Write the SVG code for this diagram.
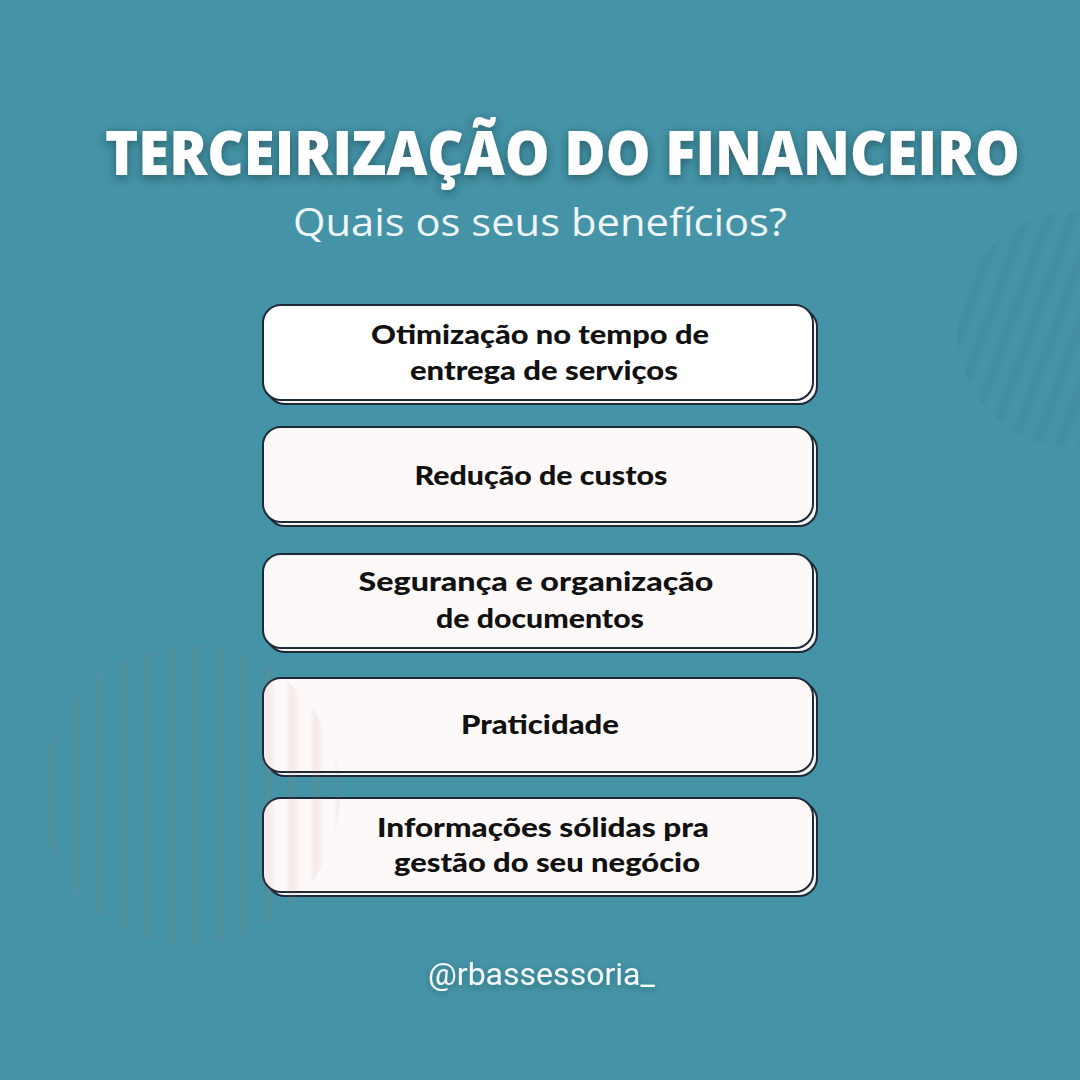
<svg xmlns="http://www.w3.org/2000/svg" width="1080" height="1080" viewBox="0 0 1080 1080">
<style>
.bg{fill:#4493a6}
.card{fill:#fdf9f8;stroke:#1e2a38;stroke-width:2}
.card1{fill:#ffffff;stroke:#1e2a38;stroke-width:2}
.shadowcard{fill:#f4f4f4;stroke:#1e2a38;stroke-width:2}
.lbl{font-family:"Lato","Inter","Liberation Sans",sans-serif;font-weight:900;font-size:27px;fill:#111111;text-anchor:middle}
.title{font-family:"Open Sans","Liberation Sans",sans-serif;font-weight:800;font-size:62px;fill:#ffffff}
.sub{font-family:"Open Sans","Liberation Sans",sans-serif;font-weight:400;font-size:38px;fill:#eef6f8}
.handle{font-family:"Roboto","Inter","Liberation Sans",sans-serif;font-weight:400;font-size:31px;fill:#f4f8f9}
</style>
<defs>
<filter id="ts" filterUnits="userSpaceOnUse" x="60" y="90" width="1010" height="130">
<feDropShadow dx="0" dy="3" stdDeviation="5" flood-color="#0d2a33" flood-opacity="0.5"/>
</filter>
<filter id="ts2" filterUnits="userSpaceOnUse" x="400" y="940" width="290" height="70">
<feDropShadow dx="0" dy="2" stdDeviation="3" flood-color="#0d2a33" flood-opacity="0.3"/>
</filter>
<filter id="soft" x="-10%" y="-10%" width="120%" height="120%">
<feGaussianBlur stdDeviation="1.5"/>
</filter>
<clipPath id="cl"><circle cx="190" cy="795" r="150"/></clipPath>
<clipPath id="cr"><circle cx="1075" cy="330" r="118"/></clipPath>
<pattern id="vs" width="24" height="24" patternUnits="userSpaceOnUse">
<rect x="0" y="0" width="9" height="24" fill="#b07878"/>
</pattern>
<pattern id="ds" width="22" height="22" patternUnits="userSpaceOnUse" patternTransform="rotate(20)">
<rect x="0" y="0" width="8" height="22" fill="#3a6f80"/>
</pattern>
</defs>
<rect class="bg" x="0" y="0" width="1080" height="1080"/>

<g id="deco-right" clip-path="url(#cr)" opacity="0.16">
<rect x="940" y="200" width="140" height="270" fill="url(#ds)" filter="url(#soft)"/>
</g>

<g id="title">
<text class="title" x="105" y="175" textLength="915" lengthAdjust="spacingAndGlyphs" filter="url(#ts)">TERCEIRIZAÇÃO DO FINANCEIRO</text>
<text class="sub" x="293" y="236" textLength="494" lengthAdjust="spacingAndGlyphs">Quais os seus benefícios?</text>
</g>

<g id="node1">
<rect class="shadowcard" x="267" y="309" width="550" height="95" rx="18"/>
<rect class="card1" x="263" y="305" width="550" height="95" rx="18"/>
<text class="lbl" x="540" y="344" textLength="338" lengthAdjust="spacingAndGlyphs">Otimização no tempo de</text>
<text class="lbl" x="544" y="380" textLength="268" lengthAdjust="spacingAndGlyphs">entrega de serviços</text>
</g>
<g id="node2">
<rect class="shadowcard" x="267" y="431" width="550" height="95" rx="18"/>
<rect class="card" x="263" y="427" width="550" height="95" rx="18"/>
<text class="lbl" x="541" y="485" textLength="253" lengthAdjust="spacingAndGlyphs">Redução de custos</text>
</g>
<g id="node3">
<rect class="shadowcard" x="267" y="558" width="550" height="94" rx="18"/>
<rect class="card" x="263" y="554" width="550" height="94" rx="18"/>
<text class="lbl" x="536" y="591" textLength="355" lengthAdjust="spacingAndGlyphs">Segurança e organização</text>
<text class="lbl" x="540" y="628" textLength="208" lengthAdjust="spacingAndGlyphs">de documentos</text>
</g>
<g id="node4">
<rect class="shadowcard" x="267" y="682" width="550" height="94" rx="18"/>
<rect class="card" x="263" y="678" width="550" height="94" rx="18"/>
<text class="lbl" x="540" y="734" textLength="158" lengthAdjust="spacingAndGlyphs">Praticidade</text>
</g>
<g id="node5">
<rect class="shadowcard" x="267" y="802" width="550" height="94" rx="18"/>
<rect class="card" x="263" y="798" width="550" height="94" rx="18"/>
<text class="lbl" x="543" y="837" textLength="332" lengthAdjust="spacingAndGlyphs">Informações sólidas pra</text>
<text class="lbl" x="547" y="872" textLength="306" lengthAdjust="spacingAndGlyphs">gestão do seu negócio</text>
</g>

<g id="deco-left" clip-path="url(#cl)" opacity="0.1">
<rect x="30" y="640" width="320" height="310" fill="url(#vs)" filter="url(#soft)"/>
</g>

<g id="connectors"></g>

<text class="handle" x="428" y="985" textLength="227" lengthAdjust="spacingAndGlyphs" filter="url(#ts2)">@rbassessoria_</text>
</svg>
